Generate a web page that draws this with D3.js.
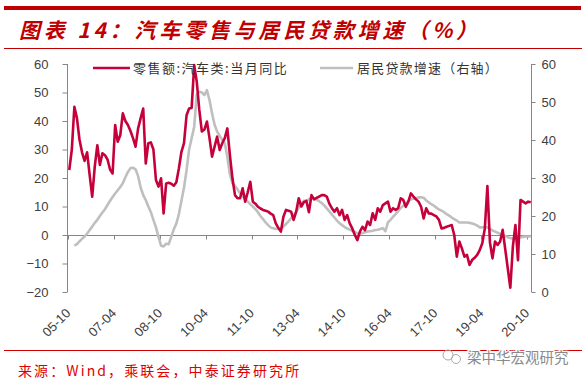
<!DOCTYPE html>
<html><head><meta charset="utf-8">
<script src="https://cdn.jsdelivr.net/npm/d3@7"></script>
<style>
html,body{margin:0;padding:0;background:#fff;}
svg{display:block;}
</style>
</head><body>
<svg id="chart" width="586" height="381"></svg>
<script>
// ---- data ----
const startMonth = "2005-10";
const monthCount = 182; // 2005-10 .. 2020-11
const tickLabels = ["05-10","07-04","08-10","10-04","11-10","13-04","14-10","16-04","17-10","19-04","20-10"];
const leftTicks = [-20,-10,0,10,20,30,40,50,60];
const rightTicks = [0,10,20,30,40,50,60];
const seriesNames = ["零售额:汽车类:当月同比","居民贷款增速（右轴）"];

// 零售额:汽车类:当月同比 (left axis, %)
const autoRetail = [
22.8,30,45,41,33.5,29,26,29,21,13.4,
24,31.5,24.6,28.7,28,26.5,23,21.6,38.6,32.7,
35,42.7,40,38.6,36.5,34,31,37.4,41,44.4,
25.1,32.2,32.5,30,19.3,17,19.9,7.6,18.1,18.3,
18,17.3,18.5,23.4,29.2,32.2,42,44.4,44.6,59.6,
53.8,43.9,36.3,37,39.8,34,27.5,31,34.5,29.8,
32.2,34,37.4,28,19.9,14,12.9,12.9,16.4,11.7,
15,18.7,11.7,11,9.9,9.3,8.8,8.5,8.2,7.5,
7,4.1,2.5,1.2,6.4,8.8,8.5,8.2,5.3,8.2,
12.9,10,11.5,12,8,14,12.5,13,13.5,14,
14,13.5,11,9.4,8.2,9.4,7,8.8,5.3,7,
4.1,2.3,0,-1.8,1.2,2.9,1.7,4.7,3.5,7.6,
5.3,9.4,8.2,10.5,11.1,11.7,8.2,9.4,8.8,9.4,
12.9,12.3,9.9,11.7,14.6,13.5,12.5,11.7,9.9,5.8,
9.4,7.6,7.5,7,6.5,5.3,2.3,2.5,2.9,3.2,
3.5,0,-7.6,-2.3,-4.7,-7.6,-7,-10.5,-8.8,-8,
-7,-5.3,-2.9,2.3,17.2,-2.6,-8.2,-2.3,-3.5,-2.3,
1.8,null,null,-18.5,-4,3.5,-8.8,12.3,11.7,11.1,
11.7,11.5
];

// 居民贷款增速 (right axis, %)
const householdLoan = [
null,null,12.2,12.6,13.3,14.0,14.6,15.4,16.3,17.2,
18.2,19.0,20.0,20.9,21.8,22.9,24.0,25.0,25.9,26.8,
27.6,28.6,30.2,31.6,32.6,32.7,32.3,30.5,27.5,25.5,
24.2,22.5,21.0,19.0,17.0,14.5,12.2,12.0,12.7,12.6,
14.5,16.5,18.0,20.5,24.0,27.5,32.0,37.5,40.5,43.5,
52.0,52.7,52.5,51.8,53.1,50.5,47.0,44.0,42.2,41.1,
40.0,39.2,35.5,31.0,28.6,27.9,27.0,25.9,25.2,24.4,
23.8,23.1,22.5,21.8,21.0,20.0,19.2,18.3,17.6,17.0,
16.8,16.6,16.6,16.6,17.2,17.9,18.6,19.4,20.2,21.0,
22.2,23.2,24.0,24.0,24.4,24.9,24.6,24.3,23.9,23.4,
22.8,22.0,21.2,20.4,19.6,18.8,18.1,17.6,17.1,16.7,
16.4,16.1,15.8,15.4,15.4,15.5,15.7,15.9,16.0,16.1,
16.3,16.4,16.6,16.8,16.0,18.3,19.0,19.8,20.5,21.3,
22.1,22.7,23.3,24.0,24.3,24.6,24.7,24.9,24.9,24.8,
24.1,23.6,23.1,22.7,22.2,21.7,21.4,21.0,20.5,20.1,
19.6,19.2,18.8,18.3,18.3,18.3,18.3,18.2,18.0,17.8,
17.5,17.0,17.0,17.0,17.0,16.6,16.2,15.9,15.6,15.3,
15.0,14.7,14.4,14.2,14.0,14.0,14.2,14.4,14.5,14.6,
14.6,14.6
];

// ---- build ----
const parse = d3.timeParse("%Y-%m");
const fmt = d3.timeFormat("%y-%m");
const months = d3.range(monthCount).map(i => fmt(d3.timeMonth.offset(parse(startMonth), i)));

const svg = d3.select("#chart");
const RED = "#C00000";
const AXIS = "#868686";
const LBL = "#404040";
const tickFont = "'Liberation Sans', Arial, sans-serif";
const cjk = "'Noto Sans CJK SC', sans-serif";

svg.append("rect").attr("width",586).attr("height",381).attr("fill","#fff");

// header
svg.append("rect").attr("x",4).attr("y",6).attr("width",577).attr("height",4).attr("fill",RED);
svg.append("text").attr("x",19).attr("y",38)
  .attr("font-family",cjk).attr("font-size",21).attr("font-weight","bold")
  .attr("font-style","italic").attr("letter-spacing",3.8).attr("fill",RED)
  .text("图表 14：汽车零售与居民贷款增速（%）");
svg.append("line").attr("x1",4).attr("x2",582).attr("y1",48.5).attr("y2",48.5).attr("stroke",RED).attr("stroke-width",1.2);

// scales
const x = d3.scaleBand().domain(months).range([68,532]).paddingInner(0).paddingOuter(0);
const yL = d3.scaleLinear().domain([-20,60]).range([292,64]);
const yR = d3.scaleLinear().domain([0,60]).range([292,64]);
const cx = m => x(m) + x.bandwidth()/2;

// left axis
const gL = svg.append("g").attr("transform","translate(67.5,0)")
  .call(d3.axisLeft(yL).tickValues(leftTicks).tickSize(5).tickPadding(14).tickFormat(d => d < 0 ? "\u2212" + Math.abs(d) : d));
// right axis
const gR = svg.append("g").attr("transform","translate(531.5,0)")
  .call(d3.axisRight(yR).tickValues(rightTicks).tickSize(4).tickPadding(6));
[gL,gR].forEach(g => {
  g.select(".domain").attr("stroke",AXIS).attr("d","M0,64V292");
  g.selectAll(".tick line").attr("stroke",AXIS);
  g.selectAll(".tick text").attr("fill",LBL).attr("font-family",tickFont).attr("font-size",13);
});

// zero-line category axis
const tickMonths = months.filter((m,i) => i % 18 === 0);
const gX = svg.append("g").attr("transform",`translate(0,${yL(0)})`);
gX.append("line").attr("x1",68).attr("x2",531.5).attr("y1",0.5).attr("y2",0.5).attr("stroke",AXIS);
gX.selectAll("line.tk").data(tickMonths).join("line").attr("class","tk")
  .attr("x1",m => Math.round(x(m))+0.5).attr("x2",m => Math.round(x(m))+0.5)
  .attr("y1",0.5).attr("y2",4.5).attr("stroke",AXIS);
svg.append("g").selectAll("text").data(tickMonths).join("text")
  .attr("transform",(m,i) => `translate(${cx(m)+2},314) rotate(-45)`)
  .attr("text-anchor","end").attr("font-family",tickFont).attr("font-size",13).attr("fill",LBL)
  .text((m,i) => tickLabels[i]);

// lines
const grayData = months.map((m,i) => ({m, v: householdLoan[i]})).filter(d => d.v !== null);
const redData = months.map((m,i) => ({m, v: autoRetail[i]})).filter(d => d.v !== null);
svg.append("path").datum(grayData)
  .attr("d", d3.line().x(d => cx(d.m)).y(d => yR(d.v)))
  .attr("fill","none").attr("stroke","#BFBFBF").attr("stroke-width",2.6).attr("stroke-linejoin","round");
svg.append("path").datum(redData)
  .attr("d", d3.line().x(d => cx(d.m)).y(d => yL(d.v)))
  .attr("fill","none").attr("stroke","#C5003A").attr("stroke-width",2.6).attr("stroke-linejoin","round");

// legend
const leg = svg.append("g");
leg.append("line").attr("x1",93).attr("x2",130).attr("y1",68).attr("y2",68).attr("stroke","#C5003A").attr("stroke-width",2.6);
leg.append("text").attr("x",133).attr("y",72.5).attr("font-family",cjk).attr("font-size",13)
  .attr("letter-spacing",1.5).attr("fill","#333").text(seriesNames[0]);
leg.append("line").attr("x1",320).attr("x2",353).attr("y1",68).attr("y2",68).attr("stroke","#BFBFBF").attr("stroke-width",2.6);
leg.append("text").attr("x",357).attr("y",72.5).attr("font-family",cjk).attr("font-size",13)
  .attr("letter-spacing",1.2).attr("fill","#333").text(seriesNames[1]);

// footer
svg.append("line").attr("x1",4).attr("x2",582).attr("y1",350.5).attr("y2",350.5).attr("stroke","#D00000").attr("stroke-width",1.2);
svg.append("text").attr("x",18).attr("y",376).attr("font-family",cjk).attr("font-size",14)
  .attr("letter-spacing",2.1).attr("fill","#E00000").text("来源：Wind，乘联会，中泰证券研究所");
// watermark
const wm = svg.append("g");
wm.append("circle").attr("cx",448).attr("cy",355).attr("r",5).attr("fill","none").attr("stroke","#aaa").attr("stroke-width",1);
wm.append("circle").attr("cx",456).attr("cy",359).attr("r",4.5).attr("fill","none").attr("stroke","#aaa").attr("stroke-width",1);
wm.append("text").attr("x",467).attr("y",362.5).attr("font-family",cjk).attr("font-size",14.5)
  .attr("fill","#8a8a8a").attr("stroke","#fff").attr("stroke-width",2.5).attr("paint-order","stroke")
  .text("梁中华宏观研究");
</script>
</body></html>
